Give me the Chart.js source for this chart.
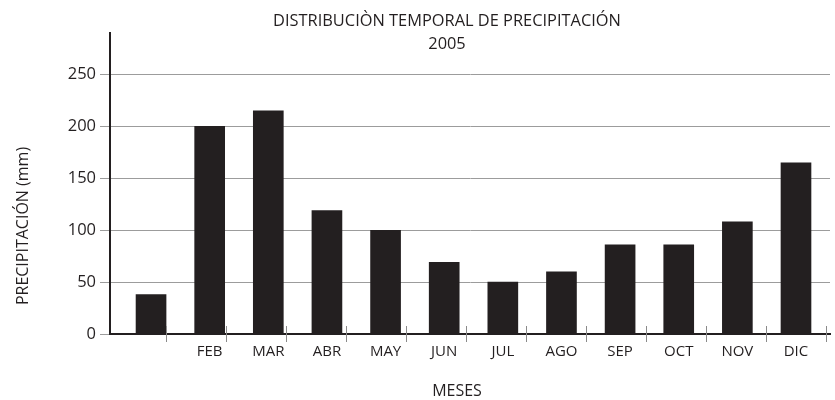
<!DOCTYPE html>
<html>
<head>
<meta charset="utf-8">
<script src="https://cdn.jsdelivr.net/npm/chart.js@4"></script>
<style>
  html, body { margin: 0; padding: 0; background: #fff; }
  #wrap { width: 835px; height: 400px; }
</style>
</head>
<body>
<div id="wrap"><canvas id="grafico"></canvas></div>
<script>
const MESES = ['', 'FEB', 'MAR', 'ABR', 'MAY', 'JUN', 'JUL', 'AGO', 'SEP', 'OCT', 'NOV', 'DIC'];
const PRECIPITACION = [38, 200, 215, 119, 100, 69, 50, 60, 86, 86, 108, 165];
const Y_TICKS = [0, 50, 100, 150, 200, 250];

const TITULO = ['DISTRIBUCIÒN TEMPORAL DE PRECIPITACIÓN', '2005'];
const TITULO_Y = 'PRECIPITACIÓN (mm)';
const TITULO_X = 'MESES';

const NEGRO = '#231f20';
const FUENTE = '"Open Sans", sans-serif';

const textosPlugin = {
  id: 'textosPlugin',
  afterDraw(chart) {
    const { ctx, chartArea: { left, right, bottom } } = chart;
    ctx.save();
    ctx.fillStyle = NEGRO;
    ctx.textAlign = 'center';
    ctx.textBaseline = 'middle';

    // título
    ctx.font = '16.4px ' + FUENTE;
    ctx.fillText(TITULO[0], 447, 21);
    ctx.fillText(TITULO[1], 447, 44);

    // eje x
    ctx.font = '16px ' + FUENTE;
    ctx.fillText(TITULO_X, 457, 391);

    // eje y (rotado)
    ctx.translate(23, 226);
    ctx.rotate(-Math.PI / 2);
    ctx.fillText(TITULO_Y, 0, 0);
    ctx.restore();

    // marcas del eje x
    ctx.save();
    ctx.strokeStyle = '#8a8a8a';
    ctx.lineWidth = 1;
    const paso = (right - left) / 12;
    for (let i = 0; i < 12; i++) {
      const x = Math.round(left + (i + 0.94) * paso) + 0.5;
      ctx.beginPath(); ctx.moveTo(x, bottom - 8); ctx.lineTo(x, bottom + 8); ctx.stroke();
    }
    ctx.restore();
  },
};

new Chart(document.getElementById('grafico'), {
  type: 'bar',
  plugins: [textosPlugin],
  data: {
    datasets: [{
      data: PRECIPITACION.map((v, i) => ({ x: i, y: v })),
      backgroundColor: NEGRO,
      barThickness: 30,
    }],
  },
  options: {
    responsive: true,
    maintainAspectRatio: false,
    animation: false,
    layout: { padding: { top: 33, right: 5, left: 0, bottom: 0 } },
    plugins: {
      legend: { display: false },
      tooltip: { enabled: false },
    },
    scales: {
      x: {
        type: 'linear',
        offset: false,
        min: -0.7, max: 11.58,
        afterBuildTicks: (scale) => { scale.ticks = MESES.map((_, i) => ({ value: i })); },
        afterFit: (scale) => { scale.height = 66; },
        grid: { display: false, drawTicks: false },
        border: { display: true, color: NEGRO, width: 2 },
        ticks: {
          autoSkip: false,
          maxRotation: 0,
          padding: 9,
          color: NEGRO,
          font: { family: FUENTE, size: 15 },
          callback: (v) => MESES[v] ?? '',
        },
      },
      y: {
        min: 0, max: 290,
        afterBuildTicks: (scale) => { scale.ticks = Y_TICKS.map((v) => ({ value: v })); },
        afterFit: (scale) => { scale.width = 110; },
        grid: { color: '#9c9c9c', lineWidth: 1, tickLength: 10 },
        border: { color: NEGRO, width: 2 },
        ticks: {
          padding: 4,
          color: NEGRO,
          font: { family: FUENTE, size: 16.5 },
        },
      },
    },
  },
});
</script>
</body>
</html>
